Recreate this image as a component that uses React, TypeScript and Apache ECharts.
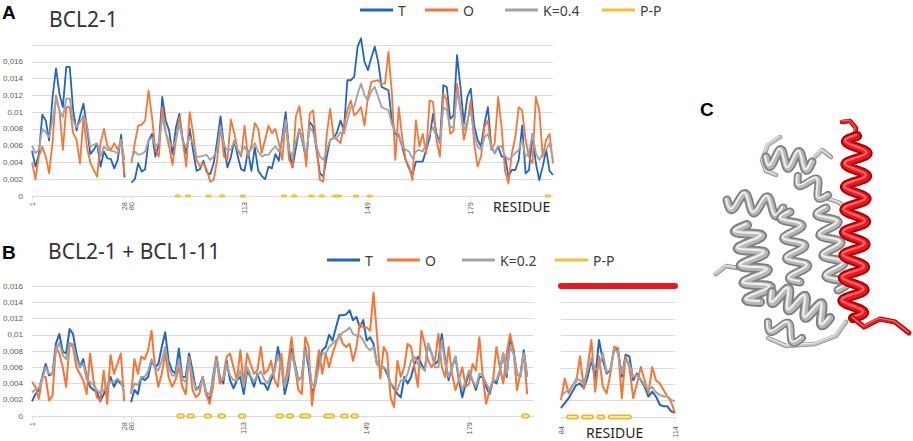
import React, { useEffect, useRef } from 'react';
import * as echarts from 'echarts';

// ---------- categories (residue numbers) ----------
const range = (a: number, b: number) => Array.from({ length: b - a + 1 }, (_, i) => String(a + i));
const A_CATEGORIES = [...range(1, 28), '', ...range(80, 203)];
const B_CATEGORIES = [...range(1, 28), '', ...range(80, 198)];
const MINI_CATEGORIES = range(84, 114);

const A_LABELS = ['1', '28', '80', '113', '149', '179'];
const B_LABELS = ['1', '28', '80', '113', '149', '179'];
const MINI_LABELS = ['84', '114'];

// ---------- values in units of 0.001 ----------
const A_T = [
  5.4, 3.5, 5.0, 9.7, 9.0, 6.6, 11.8, 15.2, 12.2, 10.6, 15.4, 15.4, 10.2, 7.8, 9.5, 11.0, 8.2,
  5.0, 5.5, 6.2, 3.5, 5.3, 4.5, 4.4, 3.3, 4.3, 7.3, 2.2,
  null,
  1.6, 2.0, 3.9, 2.9, 3.2, 6.6, 7.4, 4.7, 6.2, 11.8, 9.0, 7.8, 5.0, 8.2, 9.8, 6.7, 5.0, 8.0, 5.4, 3.0,
  3.2, 4.2, 2.8, 2.6, 3.9, 6.5, 9.5, 6.0, 3.4, 4.6, 6.6, 4.8, 3.2, 3.0, 5.4, 3.0, 5.8, 3.0, 2.4, 2.0,
  3.5, 3.3, 5.0, 4.2, 7.0, 10.0, 5.4, 3.4, 5.8, 8.0,
  6.3, 4.3, 8.8, 8.3, 5.5, 2.7, 2.3, 4.7, 6.7, 6.9, 7.6, 9.0, 7.8, 13.8, 13.8, 14.2, 17.8, 18.8, 16.0,
  15.0, 16.5, 17.8, 16.0, 13.0, 12.8, 12.6, 9.0, 7.4, 7.2, 5.9, 4.3, 3.3, 2.5, 4.1, 4.1, 4.1, 5.5, 6.9,
  9.8, 7.4, 6.3, 13.2, 13.0, 9.2, 9.6, 16.8, 13.0, 8.6, 11.8, 12.8, 8.4, 6.7, 5.9, 8.6, 10.6, 5.9, 5.1,
  5.9, 4.7, 4.7, 2.3, 3.1, 3.1, 4.3, 8.4, 2.7, 3.1, 7.4, 3.9, 1.9, 3.5, 5.5, 3.0, 2.5,
];
const A_O = [
  4.0, 2.0, 4.7, 5.9, 4.7, 2.7, 6.5, 12.0, 10.2, 5.5, 10.6, 10.6, 7.5, 6.7, 3.9, 9.4, 5.9, 4.0, 3.1,
  2.3, 6.3, 8.0, 5.9, 5.5, 6.3, 5.5, 6.7, 2.5,
  null,
  3.9, 6.3, 8.4, 8.5, 9.0, 12.6, 9.4, 5.5, 4.7, 10.6, 7.6, 5.9, 3.7, 6.7, 9.4, 6.5, 3.5, 10.0, 7.5, 4.3,
  3.5, 3.9, 3.1, 1.7, 1.9, 4.3, 8.3, 4.7, 4.3, 9.1, 7.5, 5.5, 4.7, 8.4, 4.7, 6.0, 8.7, 8.0, 5.1, 6.7,
  8.4, 7.5, 8.0, 6.3, 4.3, 9.1, 4.3, 3.5, 9.6, 10.7,
  7.5, 3.5, 9.8, 10.2, 6.0, 1.9, 1.7, 7.4, 10.4, 7.0, 6.7, 6.3, 8.4, 10.2, 11.4, 9.6, 10.0, 10.6, 8.4,
  11.8, 13.6, 13.7, 13.8, 13.4, 13.4, 17.2, 12.2, 4.3, 10.6, 7.0, 4.3, 3.5, 1.9, 9.0, 5.9, 7.4, 5.1,
  11.4, 11.2, 6.7, 4.7, 12.2, 11.4, 7.4, 7.8, 13.4, 10.6, 6.7, 8.6, 11.4, 6.3, 3.5, 4.7, 8.2, 9.0, 5.5,
  6.3, 11.8, 8.2, 3.0, 1.5, 5.1, 7.0, 10.6, 10.2, 6.7, 4.7, 3.9, 11.8, 10.2, 4.7, 6.7, 7.4, 3.9,
];
const A_K = [
  6.0, 5.1, 5.5, 8.0, 7.6, 7.0, 9.0, 11.6, 10.2, 9.4, 11.6, 11.6, 9.0, 8.2, 8.8, 9.6, 8.6, 5.9, 6.1,
  6.3, 4.7, 5.9, 5.5, 5.4, 5.3, 5.1, 6.7, 4.3,
  null,
  4.3, 5.3, 4.9, 5.0, 5.3, 6.6, 7.0, 5.9, 6.3, 9.4, 7.5, 6.5, 5.9, 6.7, 8.7, 6.5, 5.9, 7.0, 6.3, 4.7,
  4.7, 4.8, 4.9, 4.3, 4.7, 5.5, 8.3, 6.0, 5.5, 5.5, 6.6, 5.5, 5.1, 5.9, 5.1, 5.6, 6.3, 5.3, 4.7, 4.9,
  4.9, 5.5, 5.9, 5.3, 6.5, 9.0, 5.5, 4.7, 6.5, 8.0,
  6.5, 5.0, 8.2, 7.6, 6.0, 4.7, 4.3, 5.5, 6.7, 6.9, 7.0, 7.6, 7.4, 9.0, 10.6, 10.6, 12.2, 13.4, 12.0,
  11.4, 12.5, 13.0, 11.8, 10.6, 10.4, 10.2, 8.5, 7.6, 7.4, 5.9, 5.5, 5.3, 4.5, 5.3, 5.5, 5.3, 6.3, 7.4,
  8.2, 7.0, 6.3, 10.6, 10.2, 8.2, 8.2, 12.6, 10.2, 7.8, 9.0, 10.2, 7.4, 5.9, 5.5, 7.0, 7.4, 5.9, 5.1,
  5.9, 5.9, 4.8, 4.3, 4.7, 5.1, 5.5, 6.7, 4.7, 5.1, 7.4, 5.1, 4.3, 5.0, 5.5, 6.3, 4.3,
];

const B_T = [
  1.8, 2.7, 3.2, 4.8, 6.4, 5.0, 5.2, 8.9, 10.1, 7.9, 7.7, 10.7, 10.1, 7.7, 6.0, 7.0, 4.8, 3.6, 3.2,
  3.0, 1.8, 2.7, 3.6, 4.8, 3.6, 4.4, 4.0, 3.6,
  null,
  1.7, 3.2, 2.7, 4.8, 4.4, 4.8, 6.8, 6.0, 6.4, 8.5, 10.3, 6.8, 5.6, 5.2, 8.3, 4.8, 4.8, 7.7, 5.6, 3.2,
  3.6, 4.8, 2.7, 1.9, 4.8, 7.3, 4.8, 4.0, 6.8, 4.4, 3.4, 4.4, 4.8, 2.7, 5.6, 4.8, 3.6, 5.2, 4.0, 4.0,
  3.2, 4.4, 5.6, 8.5,
  6.4, 2.7, 4.4, 8.3, 6.4, 4.4, 4.8, 8.5, 6.0, 2.7, 4.0, 6.8, 8.1, 8.5, 10.0, 9.3, 10.9, 12.4, 12.4,
  12.5, 13.0, 11.8, 12.2, 10.9, 11.8, 9.3, 9.7, 8.9, 6.4, 6.0, 6.0, 5.2, 4.0, 3.4, 2.7, 2.3, 4.8, 4.0,
  4.8, 6.4, 7.3, 6.4, 5.6, 8.9, 7.7, 6.4, 6.8, 10.1, 6.8, 4.4, 6.0, 7.3, 4.4, 2.3, 4.0, 5.2, 4.4, 3.2,
  4.8, 4.8, 3.6, 2.7, 4.4, 4.0, 5.6, 7.7, 4.8, 9.7, 8.1, 5.2, 4.8, 8.1, 4.8,
];
const B_O = [
  4.2, 3.6, 2.1, 4.8, 4.8, 1.9, 2.5, 8.5, 7.7, 6.0, 3.6, 8.9, 8.5, 6.0, 5.2, 4.4, 2.7, 7.7, 4.4, 2.3,
  1.9, 5.6, 1.5, 7.5, 5.2, 6.4, 7.7, 1.8,
  null,
  2.7, 7.0, 5.2, 7.3, 7.0, 8.1, 10.5, 6.0, 3.6, 5.2, 7.7, 4.8, 3.6, 4.4, 6.0, 3.6, 2.7, 7.3, 3.2, 2.3,
  2.7, 4.8, 2.7, 1.5, 3.6, 7.3, 4.0, 4.8, 7.3, 7.7, 6.0, 4.4, 8.1, 4.0, 7.7, 6.4, 5.2, 5.6, 8.5, 5.2,
  5.6, 6.8, 4.4, 3.6,
  7.7, 3.5, 6.4, 9.7, 6.0, 3.2, 2.7, 9.7, 8.5, 1.3, 4.8, 8.1, 5.2, 7.7, 6.0, 7.7, 8.9, 10.1, 8.9, 8.5,
  8.9, 6.8, 8.5, 11.4, 10.9, 10.9, 10.5, 15.2, 10.1, 4.6, 8.5, 7.7, 2.3, 1.1, 6.8, 4.8, 6.0, 8.9, 8.5,
  6.0, 3.6, 10.5, 8.9, 6.8, 6.0, 6.8, 10.1, 6.0, 4.8, 8.5, 5.2, 3.2, 4.4, 6.0, 3.6, 4.0, 6.4, 5.6, 9.7,
  4.8, 1.5, 3.2, 4.4, 8.5, 6.0, 4.0, 7.7, 10.1, 8.1, 3.2, 5.2, 7.7, 2.7,
];
const B_K = [
  2.9, 3.3, 3.4, 4.5, 6.0, 5.2, 5.2, 8.0, 9.0, 7.5, 7.0, 9.0, 8.8, 7.0, 6.0, 6.5, 4.5, 4.2, 3.8, 3.2,
  2.8, 3.2, 3.6, 4.2, 4.2, 4.6, 4.2, 3.0,
  null,
  3.0, 4.0, 3.8, 4.8, 4.8, 5.5, 7.0, 6.0, 5.6, 6.8, 8.5, 6.0, 5.0, 5.0, 7.0, 4.5, 4.2, 7.0, 4.8, 3.2,
  3.4, 4.6, 3.0, 2.6, 4.4, 6.8, 4.6, 4.5, 6.4, 5.0, 4.4, 4.4, 5.6, 3.6, 6.0, 5.0, 4.2, 5.0, 5.5, 4.5,
  4.0, 5.0, 5.5, 7.5,
  6.0, 3.6, 5.2, 7.7, 6.0, 4.4, 4.8, 8.1, 6.8, 3.8, 4.0, 6.0, 7.7, 7.7, 8.5, 8.9, 9.3, 9.7, 10.3, 10.5,
  10.9, 10.1, 9.9, 9.9, 9.3, 8.5, 8.1, 8.5, 6.4, 6.0, 6.0, 5.6, 4.0, 3.6, 3.2,
  4.4, 4.4, 5.2, 6.8, 7.3, 6.4, 6.0, 5.6, 8.9, 7.7, 6.0, 6.0, 9.3, 6.4, 4.8, 6.0, 7.3, 4.8, 3.2, 4.4,
  5.6, 4.4, 3.6, 5.2, 5.0, 4.0, 3.2, 4.4, 4.4, 5.6, 7.7, 5.2, 8.5, 7.7, 5.2, 4.8, 7.7, 4.8,
];

const MINI_T = [1.1, 1.7, 2.3, 3.1, 3.9, 4.1, 3.5, 4.9, 7.0, 4.7, 9.4, 7.0, 5.3, 5.7, 8.4, 8.2, 4.9, 7.6, 7.4, 4.5, 5.3, 4.5, 3.7, 2.5, 3.1, 2.5, 1.5, 1.3, 1.3, 0.7, 0.5];
const MINI_O = [2.1, 4.7, 2.9, 3.9, 4.3, 7.4, 3.5, 6.1, 9.4, 3.1, 7.4, 3.7, 2.9, 5.3, 8.6, 8.4, 2.3, 7.4, 6.1, 2.3, 4.1, 6.1, 4.5, 2.9, 6.1, 4.5, 4.1, 3.3, 2.5, 1.8, 0.5];
const MINI_K = [2.5, 3.0, 3.3, 3.7, 4.7, 4.5, 4.1, 5.7, 7.2, 5.8, 6.0, 7.8, 5.5, 5.8, 8.4, 7.8, 5.3, 7.0, 6.5, 4.9, 5.1, 4.6, 3.9, 3.3, 3.7, 3.0, 2.7, 2.5, 2.5, 2.1, 1.9];
const MINI_BCL1_11 = [16, 16, 16, 16, 16, 16, 16, 16, 16, 16, 16, 16, 16, 16, 16, 16, 16, 16, 16, 16, 16, 16, 16, 16, 16, 16, 16, 16, 16, 16, 16];

// P-P contact residue ranges (drawn at y = 0)
const PP_A = [[93, 94], [96, 97], [102, 103], [106, 107], [112, 113], [124, 125], [127, 128], [132, 133], [135, 136], [139, 141], [145, 146], [149, 150], [201, 202]];
const PP_B = [[94, 95], [97, 98], [102, 103], [106, 107], [112, 113], [123, 124], [126, 127], [130, 132], [137, 139], [142, 143], [145, 146], [195, 196]];
const PP_MINI = [[86, 88], [90, 92], [94, 95], [97, 102]];

const C_BLUE = '#2166C5';
const C_ORANGE = '#FA7433';
const C_GRAY = '#A3A3A3';
const C_YELLOW = '#F2C232';
const C_RED = '#F0141C';
const GRID_C = '#DCDCDC';
const LABEL_C = '#595959';

const ppData = (cats: string[], ranges: number[][]) =>
  cats.map((c) => {
    if (c === '') return null;
    const r = Number(c);
    return ranges.some(([a, b]) => r >= a && r <= b) ? 0 : null;
  });

const yFmt = (hideTop?: number) => (v: number) => {
  if (hideTop !== undefined && v >= hideTop) return '';
  if (v === 0) return '0';
  return (v / 1000).toFixed(3).replace(/0+$/, '').replace('.', ',');
};

const helix = (x1: number, y1: number, x2: number, y2: number, turns: number, amp: number) => {
  const pts: number[][] = [];
  const n = Math.round(turns * 16);
  const dx = x2 - x1, dy = y2 - y1;
  const L = Math.hypot(dx, dy);
  const nx = -dy / L, ny = dx / L;
  for (let i = 0; i <= n; i++) {
    const t = i / n;
    const s = Math.sin(t * turns * Math.PI * 2) * amp;
    pts.push([x1 + dx * t + nx * s, y1 + dy * t + ny * s]);
  }
  return pts;
};

const ribbon = (pts: number[][], base: string, mid: string, hi: string, w: number) => [
  { type: 'polyline', shape: { points: pts }, style: { stroke: base, lineWidth: w, fill: null, lineJoin: 'round', lineCap: 'round' } },
  { type: 'polyline', shape: { points: pts }, style: { stroke: mid, lineWidth: w * 0.62, fill: null, lineJoin: 'round', lineCap: 'round' } },
  { type: 'polyline', shape: { points: pts.map(([x, y]) => [x - 1, y - 1]) }, style: { stroke: hi, lineWidth: w * 0.22, fill: null, lineJoin: 'round', lineCap: 'round' } },
];

const loop = (pts: number[][]) => ribbon(pts, '#8c8c8c', '#c4c4c4', '#efefef', 4.5);

export default function App() {
  const ref = useRef<HTMLDivElement>(null);
  useEffect(() => {
    if (!ref.current) return;
    const chart = echarts.init(ref.current, null, { renderer: 'svg' });
    const font = 'Noto Sans';
    const xAxisBase = (gridIndex: number, data: string[], labels: string[], margin: number) => ({
      type: 'category',
      gridIndex,
      data,
      boundaryGap: false,
      axisLine: { lineStyle: { color: GRID_C, width: 1 } },
      axisTick: { show: true, length: 3, interval: (_i: number, v: string) => labels.includes(v), lineStyle: { color: GRID_C } },
      axisLabel: {
        interval: (_i: number, v: string) => labels.includes(v),
        rotate: 90,
        fontSize: 7.5,
        color: LABEL_C,
        margin,
        fontFamily: 'Liberation Sans',
      },
      splitLine: { show: false },
    });
    const yAxisBase = (gridIndex: number, max: number, showLabels: boolean, hideTop?: number) => ({
      type: 'value',
      gridIndex,
      min: 0,
      max,
      interval: 2,
      axisLine: { show: false },
      axisTick: { show: false },
      splitLine: { lineStyle: { color: GRID_C, width: 1 } },
      axisLabel: { show: showLabels, formatter: yFmt(hideTop), fontSize: 8, color: LABEL_C, margin: 9, fontFamily: 'Liberation Sans' },
    });
    const line = (name: string, data: any[], color: string, xi: number, width: number, z = 2) => ({
      name,
      type: 'line',
      xAxisIndex: xi,
      yAxisIndex: xi,
      data,
      showSymbol: false,
      symbol: 'none',
      connectNulls: false,
      clip: false,
      lineStyle: { color, width, join: 'round' },
      itemStyle: { color },
      z,
    });
    const ppLine = (name: string, data: any[], color: string, xi: number, width: number, z = 5) => ({
      ...line(name, data, color, xi, width, z),
      lineStyle: { color, width, cap: 'round' },
    });
    const legendItem = (name: string, left: number, top: number) => ({
      data: [name],
      left,
      top,
      padding: 0,
      icon: 'rect',
      itemWidth: 33,
      itemHeight: 3,
      selectedMode: false,
      textStyle: { fontSize: 14, color: '#404040', fontFamily: font },
    });

    const graphics: any[] = [
      { type: 'text', left: 2, top: 3, style: { text: 'A', fontSize: 19, fontWeight: 'bold', fontFamily: 'Liberation Sans', fill: '#000' } },
      { type: 'text', left: 49, top: 8, style: { text: 'BCL2-1', fontSize: 21, fontFamily: font, fill: '#333' } },
      { type: 'text', left: 2, top: 243, style: { text: 'B', fontSize: 19, fontWeight: 'bold', fontFamily: 'Liberation Sans', fill: '#000' } },
      { type: 'text', left: 48, top: 240, style: { text: 'BCL2-1 + BCL1-11', fontSize: 21, fontFamily: font, fill: '#333' } },
      { type: 'text', left: 493, top: 199, style: { text: 'RESIDUE', fontSize: 14, fontFamily: font, fill: '#262626' } },
      { type: 'text', left: 586, top: 425, style: { text: 'RESIDUE', fontSize: 14, fontFamily: font, fill: '#262626' } },
      { type: 'text', left: 700, top: 100, style: { text: 'C', fontSize: 19, fontWeight: 'bold', fontFamily: 'Liberation Sans', fill: '#000' } },
    ];

    // ----- panel C: protein cartoon (decorative) -----
    const G = ['#7e7e7e', '#b8b8b8', '#efefef'];
    const proteinGray: any[] = [
      ...loop([[780, 137], [768, 145], [762, 160], [766, 171], [776, 175]]),
      ...loop([[716, 274], [726, 266], [737, 268], [746, 262]]),
      ...loop([[768, 338], [786, 346], [815, 344], [836, 336], [846, 322]]),
      ...loop([[812, 160], [822, 150], [831, 157]]),
      ...loop([[826, 198], [840, 203], [849, 214]]),
      ...ribbon(helix(747, 225, 760, 302, 4.5, 13), G[0], G[1], G[2], 10),
      ...ribbon(helix(727, 200, 783, 208, 2.5, 9), G[0], G[1], G[2], 9),
      ...ribbon(helix(766, 157, 812, 162, 2.5, 9), G[0], G[1], G[2], 9),
      ...ribbon(helix(798, 176, 828, 195, 1.5, 8), G[0], G[1], G[2], 8),
      ...ribbon(helix(790, 212, 800, 282, 3.5, 10), G[0], G[1], G[2], 9),
      ...ribbon(helix(826, 208, 838, 290, 4, 10), G[0], G[1], G[2], 9),
      ...ribbon(helix(772, 292, 830, 318, 3.5, 10), G[0], G[1], G[2], 10),
      ...ribbon(helix(768, 322, 802, 338, 1.5, 8), G[0], G[1], G[2], 8),
    ];
    const proteinRed: any[] = [
      ...ribbon([[842, 122], [850, 121], [856, 128], [855, 136]], '#a80000', C_RED, '#ff7070', 4.5),
      ...ribbon(helix(857, 136, 853, 318, 8, 11), '#a80000', C_RED, '#ff6a6a', 10),
      ...ribbon([[853, 318], [864, 327], [880, 319], [895, 322], [909, 333]], '#a80000', C_RED, '#ff7070', 5),
    ];
    graphics.push(...proteinGray, ...proteinRed);

    chart.setOption({
      animation: false,
      textStyle: { fontFamily: font },
      grid: [
        { left: 30, top: 45, width: 523, height: 151 },
        { left: 30, top: 286, width: 504, height: 130 },
        { left: 561, top: 286, width: 114, height: 131 },
      ],
      xAxis: [
        xAxisBase(0, A_CATEGORIES, A_LABELS, 6),
        xAxisBase(1, B_CATEGORIES, B_LABELS, 6),
        xAxisBase(2, MINI_CATEGORIES, MINI_LABELS, 9),
      ],
      yAxis: [yAxisBase(0, 18, true, 18), yAxisBase(1, 16, true), yAxisBase(2, 16, false)],
      legend: [
        legendItem('T', 360, 3),
        legendItem('O', 425, 3),
        legendItem('K=0.4', 505, 3),
        legendItem('P-P', 602, 3),
        legendItem('T', 327, 253),
        legendItem('O', 387, 253),
        legendItem('K=0.2', 462, 253),
        legendItem('P-P', 555, 253),
      ],
      series: [
        line('T', A_T, C_BLUE, 0, 1.8),
        line('O', A_O, C_ORANGE, 0, 1.8),
        line('K=0.4', A_K, C_GRAY, 0, 1.8),
        ppLine('P-P', ppData(A_CATEGORIES, PP_A), C_YELLOW, 0, 3),
        line('T', B_T, C_BLUE, 1, 2),
        line('O', B_O, C_ORANGE, 1, 2),
        line('K=0.2', B_K, C_GRAY, 1, 2),
        ppLine('P-P', ppData(B_CATEGORIES, PP_B), '#E9B726', 1, 5),
        ppLine('P-P inner', ppData(B_CATEGORIES, PP_B), '#FBE9A6', 1, 1.8, 6),
        line('T', MINI_T, C_BLUE, 2, 2),
        line('O', MINI_O, C_ORANGE, 2, 2),
        line('K=0.2', MINI_K, C_GRAY, 2, 2),
        ppLine('P-P', ppData(MINI_CATEGORIES, PP_MINI), '#E9B726', 2, 5),
        ppLine('P-P inner', ppData(MINI_CATEGORIES, PP_MINI), '#FBE9A6', 2, 1.8, 6),
        ppLine('BCL1-11', MINI_BCL1_11, C_RED, 2, 6),
      ],
      graphic: graphics,
    });
    return () => chart.dispose();
  }, []);
  return <div ref={ref} style={{ position: 'fixed', left: 0, top: 0, width: 913, height: 441, background: '#fff' }} />;
}
